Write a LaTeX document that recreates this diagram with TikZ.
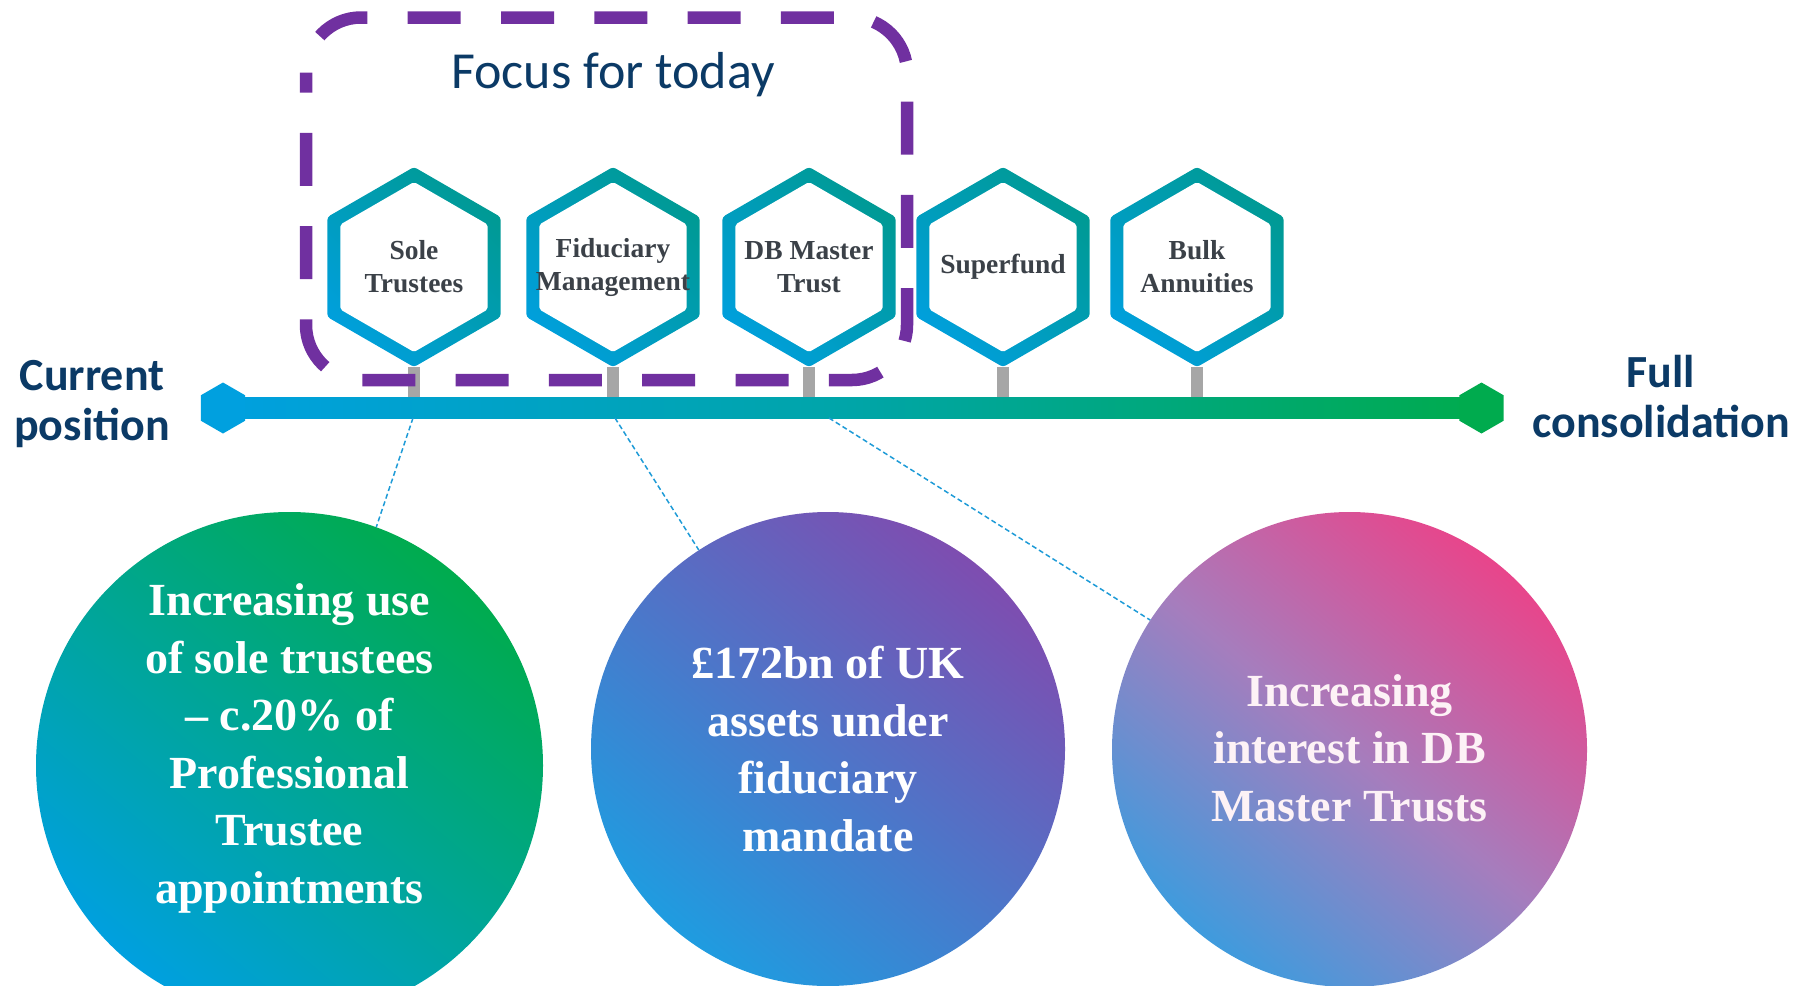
\documentclass[tikz,border=0pt]{standalone}
\usepackage{fontspec}
\setmainfont{Liberation Serif}
\newfontfamily\calibrifont{Carlito}
\usetikzlibrary{shapes.geometric}

\definecolor{navy}{HTML}{0B3A66}
\definecolor{focuspurple}{HTML}{7030A0}
\definecolor{hexblue}{HTML}{009FDB}
\definecolor{hexteal}{HTML}{009A94}
\definecolor{barblue}{HTML}{00A0DF}
\definecolor{barteal}{HTML}{00A5A8}
\definecolor{bargreen}{HTML}{00AB4E}
\definecolor{stemgrey}{HTML}{A6A6A6}
\definecolor{labelgrey}{HTML}{3B4148}
\definecolor{leaderblue}{HTML}{1E9BD7}
\definecolor{fidublue}{HTML}{1F9CE0}
\definecolor{fidupurple}{HTML}{7E4DB0}
\definecolor{dbblue}{HTML}{3F9BDD}
\definecolor{dblavender}{HTML}{A67DBD}
\definecolor{dbpink}{HTML}{E8458B}
\definecolor{dbtext}{HTML}{FDF2F6}

\begin{document}
\begin{tikzpicture}[x=1pt, y=-1pt]
\tikzstyle{hexring}=[regular polygon, regular polygon sides=6, shape border rotate=30, minimum size=200pt, inner sep=0pt, rounded corners=3pt, bottom color=hexblue, top color=hexteal, shading angle=-45]
\tikzstyle{hexhole}=[regular polygon, regular polygon sides=6, shape border rotate=30, minimum size=170pt, inner sep=0pt, rounded corners=2pt, fill=white]
\tikzstyle{hexlabel}=[align=center, text=labelgrey, font=\fontsize{27.5}{33}\selectfont\bfseries]
\tikzstyle{endcap}=[regular polygon, regular polygon sides=6, shape border rotate=30, minimum size=51pt, inner sep=0pt]
\tikzstyle{stem}=[draw=stemgrey, line width=12pt]
\tikzstyle{focusbox}=[draw=focuspurple, line width=12.5pt, rounded corners=55pt, dash pattern=on 53pt off 40.3pt, dash phase=33pt]
\tikzstyle{bubble}=[circle, inner sep=0pt]
\tikzstyle{bubbletext}=[align=center, text=white, font=\fontsize{46}{57.5}\selectfont\bfseries]
\tikzstyle{endlabel}=[align=center, text=navy, font=\calibrifont\fontsize{46}{50}\selectfont\bfseries]
\tikzstyle{leader}=[draw=leaderblue, line width=1.5pt, dash pattern=on 5pt off 3pt]

\useasboundingbox (0,0) rectangle (1809,985);

% timeline
\node[minimum width=1258pt, minimum height=21pt, inner sep=0pt, left color=barblue, right color=bargreen, middle color=barteal] (bar) at (852,408) {};
\node[endcap, fill=barblue] (start) at (223,408) {};
\node[endcap, fill=bargreen] (finish) at (1481.5,408) {};
\node[endlabel] (current) at (92,404) {Current\\position};
\node[endlabel] (full) at (1661,397) {Full\\consolidation};

% hexagons on stems
\foreach \hname/\hx/\htext in {sole/414/{Sole\\Trustees}, fidu/613/{Fiduciary\\Management}, dbmt/809/{DB Master\\Trust}, sfund/1003/{Superfund}, bulk/1197/{Bulk\\Annuities}} {
  \node[hexring] (\hname-ring) at (\hx,267) {};
  \node[hexhole] (\hname-hole) at (\hx,267) {};
  \node[hexlabel] (\hname) at (\hx,267) {\htext};
  \draw[stem] (\hname-ring.south) -- (\hname-ring.south |- bar.north);
}

% focus box
\draw[focusbox] (306,17.5) rectangle (907,380);
\node[font=\calibrifont\fontsize{52}{60}\selectfont, text=navy] (focus) at (613,75) {Focus for today};

% bubbles
\node[bubble, minimum size=507pt, bottom color=barblue, top color=bargreen, shading angle=-40] (sole-bubble) at (289.5,765.5) {};
\node[bubbletext] (sole-text) at (289.5,748.5) {Increasing use\\of sole trustees\\– c.20\% of\\Professional\\Trustee\\appointments};
\node[bubble, minimum size=474pt, bottom color=fidublue, top color=fidupurple, shading angle=-40] (fidu-bubble) at (828,749) {};
\node[bubbletext] (fidu-text) at (828,749) {£172bn of UK\\assets under\\fiduciary\\mandate};
\node[bubble, minimum size=475pt, bottom color=dbblue, top color=dbpink, middle color=dblavender, shading angle=-40] (dbmt-bubble) at (1349.5,749.5) {};
\node[bubbletext, text=dbtext] (dbmt-text) at (1349.5,748) {Increasing\\interest in DB\\Master Trusts};

% leaders
\coordinate (lead1) at (413,418);
\coordinate (lead2) at (615,418);
\coordinate (lead3) at (829,418);
\draw[leader] (lead1) -- (sole-bubble.70);
\draw[leader] (lead2) -- (fidu-bubble.123);
\draw[leader] (lead3) -- (dbmt-bubble.147);
\end{tikzpicture}
\end{document}
